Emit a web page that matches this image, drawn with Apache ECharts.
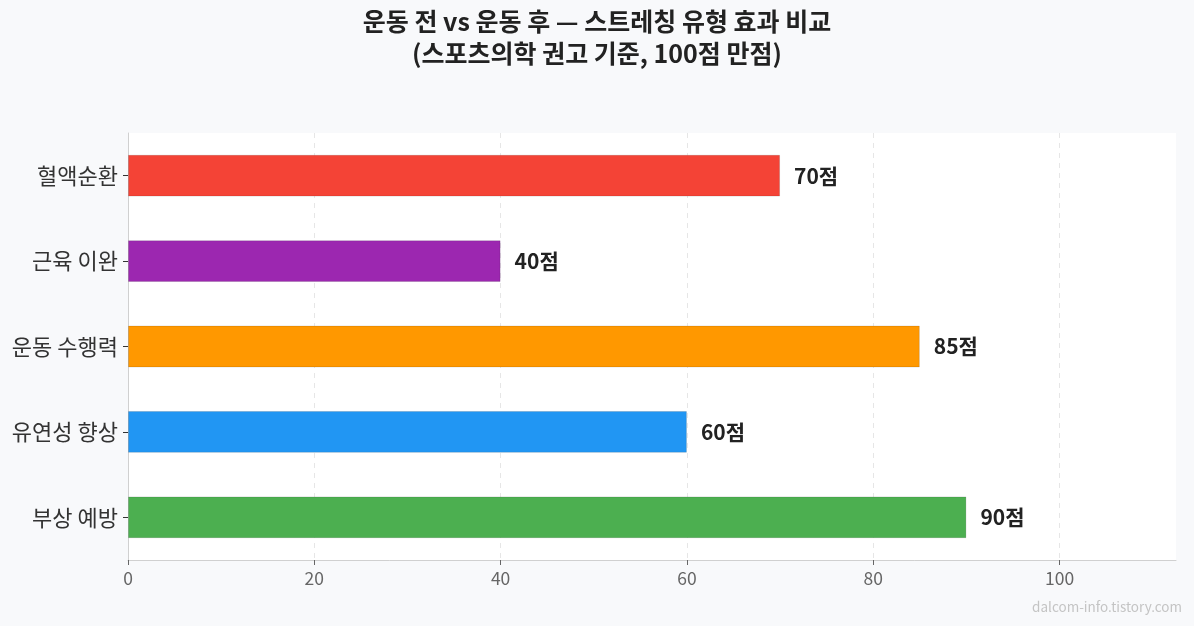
<!DOCTYPE html>
<html>
<head>
<meta charset="utf-8">
<script src="https://cdn.jsdelivr.net/npm/echarts@6/dist/echarts.min.js"></script>
<style>
  html, body { margin: 0; padding: 0; background: #f8f9fb; }
  #chart { width: 1194px; height: 626px; }
</style>
</head>
<body>
<div id="chart"></div>
<script>
  // 스트레칭 유형별 효과 점수 (위에서 아래 순서)
  const categories = ['혈액순환', '근육 이완', '운동 수행력', '유연성 향상', '부상 예방'];
  const scores = [70, 40, 85, 60, 90];
  const barColors = ['#F44336', '#9C27B0', '#FF9800', '#2196F3', '#4CAF50'];
  const xTicks = [0, 20, 40, 60, 80, 100];

  const font = '"Noto Sans CJK KR", "Noto Sans", sans-serif';
  const chart = echarts.init(document.getElementById('chart'));

  chart.setOption({
    backgroundColor: '#f8f9fb',
    title: {
      text: '운동 전 vs 운동 후 — 스트레칭 유형 효과 비교\n(스포츠의학 권고 기준, 100점 만점)',
      left: 'center',
      top: 0,
      textStyle: {
        fontFamily: font,
        fontSize: 25,
        fontWeight: 'bold',
        color: '#222',
        lineHeight: 32
      }
    },
    graphic: [{
      type: 'text',
      right: 12,
      bottom: 12,
      style: {
        text: 'dalcom-info.tistory.com',
        fontFamily: font,
        fontSize: 13.5,
        fill: '#c4c4c4'
      }
    }],
    grid: {
      left: 128,
      right: 18,
      top: 133,
      bottom: 66,
      show: true,
      backgroundColor: '#ffffff',
      borderWidth: 0
    },
    xAxis: {
      type: 'value',
      min: 0,
      max: 112.5,
      interval: 20,
      axisLine: { show: true, lineStyle: { color: '#d0d0d0' } },
      axisTick: { show: true, length: 5, customValues: xTicks, lineStyle: { color: '#666' } },
      axisLabel: {
        fontFamily: font,
        fontSize: 17.5,
        color: '#666',
        margin: 10,
        customValues: xTicks
      },
      splitLine: { show: true, lineStyle: { color: '#e6e6e6', type: [5, 5] } }
    },
    yAxis: {
      type: 'category',
      data: categories,
      inverse: true,
      axisLine: { show: true, lineStyle: { color: '#d0d0d0' } },
      axisTick: { show: true, length: 5, alignWithLabel: true, lineStyle: { color: '#333' } },
      axisLabel: {
        fontFamily: font,
        fontSize: 22,
        color: '#333',
        margin: 10
      },
      splitLine: { show: false }
    },
    series: [{
      type: 'bar',
      barWidth: '49%',
      data: scores.map(function (v, i) {
        return {
          value: v,
          itemStyle: {
            color: barColors[i],
            borderColor: 'rgba(0,0,0,0.12)',
            borderWidth: 1
          }
        };
      }),
      label: {
        show: true,
        position: 'right',
        distance: 14,
        formatter: '{c}점',
        fontFamily: font,
        fontSize: 21,
        fontWeight: 'bold',
        color: '#222'
      }
    }]
  });
</script>
</body>
</html>
